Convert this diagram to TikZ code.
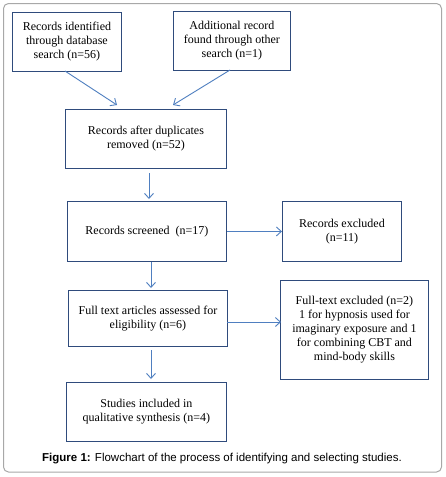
\documentclass[tikz,border=0pt]{standalone}
\usepackage{fontspec}
\setmainfont{Liberation Serif}
\newfontfamily\capfont{Liberation Sans}
\usetikzlibrary{arrows.meta}
\definecolor{boxc}{HTML}{2F4B7C}
\definecolor{arrc}{HTML}{4F7FC0}
\definecolor{framec}{HTML}{A8A8A8}
\tikzset{
  fbox/.style={draw=boxc, line width=0.9pt, align=center, inner sep=0pt,
    font=\fontsize{12}{14}\selectfont, anchor=north west},
  farrow/.style={draw=arrc, line width=0.9pt, -{Straight Barb[length=5pt,width=9pt,line width=0.9pt]}}
}
\begin{document}
\begin{tikzpicture}[x=1pt,y=-1pt]
\useasboundingbox (0,0) rectangle (445,477);
\fill[white] (0,0) rectangle (445,477);
\draw[framec, line width=1pt, rounded corners=5pt] (3.5,3.5) rectangle (441.5,472);
\node[fbox, minimum width=109pt, minimum height=59pt] (a) at (12,12) {Records identified\\through database\\search (n=56)};
\node[fbox, minimum width=117pt, minimum height=59pt] (b) at (173,11) {Additional record\\found through other\\search (n=1)};
\node[fbox, minimum width=161pt, minimum height=59pt] (c) at (65,109) {Records after duplicates\\removed (n=52)};
\node[fbox, minimum width=159pt, minimum height=60pt] (d) at (67,201) {Records screened\ \ (n=17)};
\node[fbox, minimum width=119pt, minimum height=60pt] (e) at (282,201) {Records excluded\\(n=11)};
\node[fbox, minimum width=159pt, minimum height=56pt] (f) at (68,290) {Full text articles assessed for\\eligibility (n=6)};
\node[fbox, minimum width=148pt, minimum height=99pt] (g) at (280,280) {Full-text excluded (n=2)\\1 for hypnosis used for\\imaginary exposure and 1\\for combining CBT and\\mind-body skills};
\node[fbox, minimum width=160pt, minimum height=59pt] (h) at (66,382) {Studies included in\\qualitative synthesis (n=4)};
\node[font=\capfont\fontsize{11.5}{13}\selectfont, anchor=base] (cap) at (222,461) {\textbf{Figure 1:} Flowchart of the process of identifying and selecting studies.};
\coordinate (a1) at (65,71);
\coordinate (a2) at (117,105);
\coordinate (b1) at (230,70);
\coordinate (b2) at (173,105);
\coordinate (c1) at (149,173);
\coordinate (c2) at (149,199);
\coordinate (d1) at (151,262);
\coordinate (d2) at (151,288);
\coordinate (f0) at (227,322);
\coordinate (f2) at (281,322);
\coordinate (f1) at (151,350);
\coordinate (f3) at (151,379);
\draw[farrow] (a1) -- (a2);
\draw[farrow] (b1) -- (b2);
\draw[farrow] (c1) -- (c2);
\draw[farrow] (d.east) -- (e.west);
\draw[farrow] (d1) -- (d2);
\draw[farrow] (f0) -- (f2);
\draw[farrow] (f1) -- (f3);
\end{tikzpicture}
\end{document}
